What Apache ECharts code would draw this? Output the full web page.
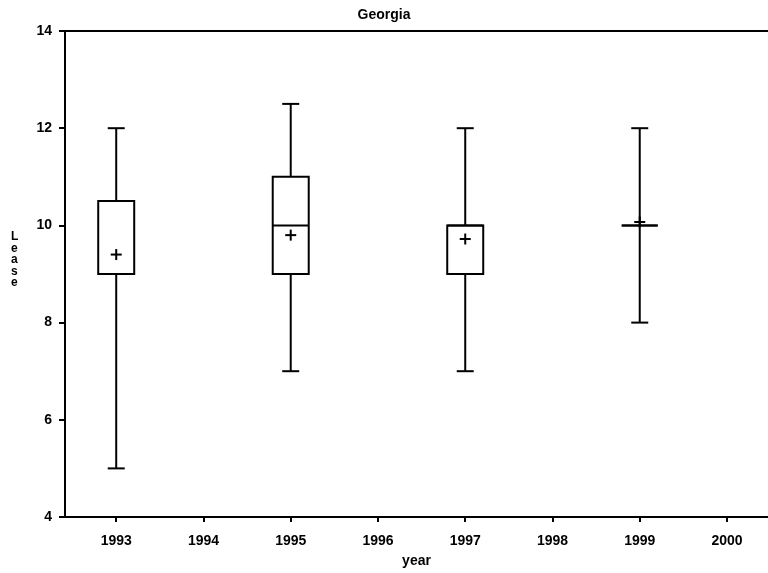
<!DOCTYPE html>
<html>
<head>
<meta charset="utf-8">
<script src="https://cdn.jsdelivr.net/npm/echarts@6/dist/echarts.min.js"></script>
<style>
  html, body { margin: 0; padding: 0; background: #fff; }
  #main { width: 768px; height: 573px; }
</style>
</head>
<body>
<div id="main"></div>
<script>
// box plot of Lease by year, Georgia
var years = [1993, 1995, 1997, 1999];
var mins = [5, 7, 7, 8];
var q1s = [9, 9, 9, 10];
var medians = [9, 10, 10, 10];
var q3s = [10.5, 11, 10, 10];
var maxs = [12, 12.5, 12, 12];
var means = [9.4, 9.8, 9.72, 10.07];
var tickYears = [1993, 1994, 1995, 1996, 1997, 1998, 1999, 2000];

var FONT = '"Liberation Sans", Arial, sans-serif';
var txt = { fontFamily: FONT, fontSize: 14, fontWeight: 'bold', color: '#000' };

var chartDom = document.getElementById('main');
var myChart = echarts.init(chartDom);

var boxData = years.map(function (y, i) {
  return [y, mins[i], q1s[i], medians[i], q3s[i], maxs[i], means[i]];
});

function renderBox(params, api) {
  var x = api.value(0);
  var pMin = api.coord([x, api.value(1)]);
  var pQ1 = api.coord([x, api.value(2)]);
  var pMed = api.coord([x, api.value(3)]);
  var pQ3 = api.coord([x, api.value(4)]);
  var pMax = api.coord([x, api.value(5)]);
  var pMean = api.coord([x, api.value(6)]);
  var cx = pMin[0];
  var bw = 36, cw = 17, ms = 5.5;
  var ln = { stroke: '#000', lineWidth: 2 };
  return {
    type: 'group',
    children: [
      { type: 'line', shape: { x1: cx, y1: pMin[1], x2: cx, y2: pQ1[1] }, style: ln },
      { type: 'line', shape: { x1: cx, y1: pQ3[1], x2: cx, y2: pMax[1] }, style: ln },
      { type: 'line', shape: { x1: cx - cw / 2, y1: pMin[1], x2: cx + cw / 2, y2: pMin[1] }, style: ln },
      { type: 'line', shape: { x1: cx - cw / 2, y1: pMax[1], x2: cx + cw / 2, y2: pMax[1] }, style: ln },
      { type: 'rect', shape: { x: cx - bw / 2, y: pQ3[1], width: bw, height: pQ1[1] - pQ3[1] },
        style: { fill: '#fff', stroke: '#000', lineWidth: 2 } },
      { type: 'line', shape: { x1: cx - bw / 2, y1: pMed[1], x2: cx + bw / 2, y2: pMed[1] }, style: ln },
      { type: 'line', shape: { x1: cx - ms, y1: pMean[1], x2: cx + ms, y2: pMean[1] }, style: ln },
      { type: 'line', shape: { x1: cx, y1: pMean[1] - ms, x2: cx, y2: pMean[1] + ms }, style: ln }
    ]
  };
}

var option = {
  animation: false,
  backgroundColor: '#fff',
  title: {
    text: 'Georgia',
    left: 'center',
    top: 3,
    textStyle: txt
  },
  graphic: [
    {
      type: 'text',
      left: 11,
      top: 231,
      style: {
        text: 'L\ne\na\ns\ne',
        font: 'bold 12px "Liberation Sans", Arial, sans-serif',
        lineHeight: 11.5,
        align: 'center',
        fill: '#000'
      }
    }
  ],
  grid: { left: 65, right: 0, top: 31, bottom: 53 },
  xAxis: [
    {
      type: 'value',
      min: 1992.413,
      max: 2000.47,
      name: 'year',
      nameLocation: 'middle',
      nameGap: 37,
      nameTextStyle: txt,
      splitLine: { show: false },
      axisLine: { lineStyle: { color: '#000', width: 2 } },
      axisTick: { show: true, customValues: tickYears, length: 5, lineStyle: { color: '#000', width: 2 } },
      axisLabel: Object.assign({
        customValues: tickYears,
        margin: 17,
        formatter: function (v) { return String(Math.round(v)); }
      }, txt)
    },
    {
      type: 'value',
      position: 'top',
      min: 1992.413,
      max: 2000.47,
      splitLine: { show: false },
      axisLine: { show: true, lineStyle: { color: '#000', width: 2 } },
      axisTick: { show: false },
      axisLabel: { show: false }
    }
  ],
  yAxis: {
    type: 'value',
    min: 4,
    max: 14,
    interval: 2,
    splitLine: { show: false },
    axisLine: { show: true, lineStyle: { color: '#000', width: 2 } },
    axisTick: { show: true, length: 6, lineStyle: { color: '#000', width: 2 } },
    axisLabel: Object.assign({ margin: 13 }, txt)
  },
  series: [
    {
      type: 'custom',
      xAxisIndex: 0,
      renderItem: renderBox,
      data: boxData,
      encode: { x: 0, y: [1, 2, 3, 4, 5, 6] }
    }
  ]
};

myChart.setOption(option);
window.onresize = function () {
  myChart.resize();
};
</script>
</body>
</html>
